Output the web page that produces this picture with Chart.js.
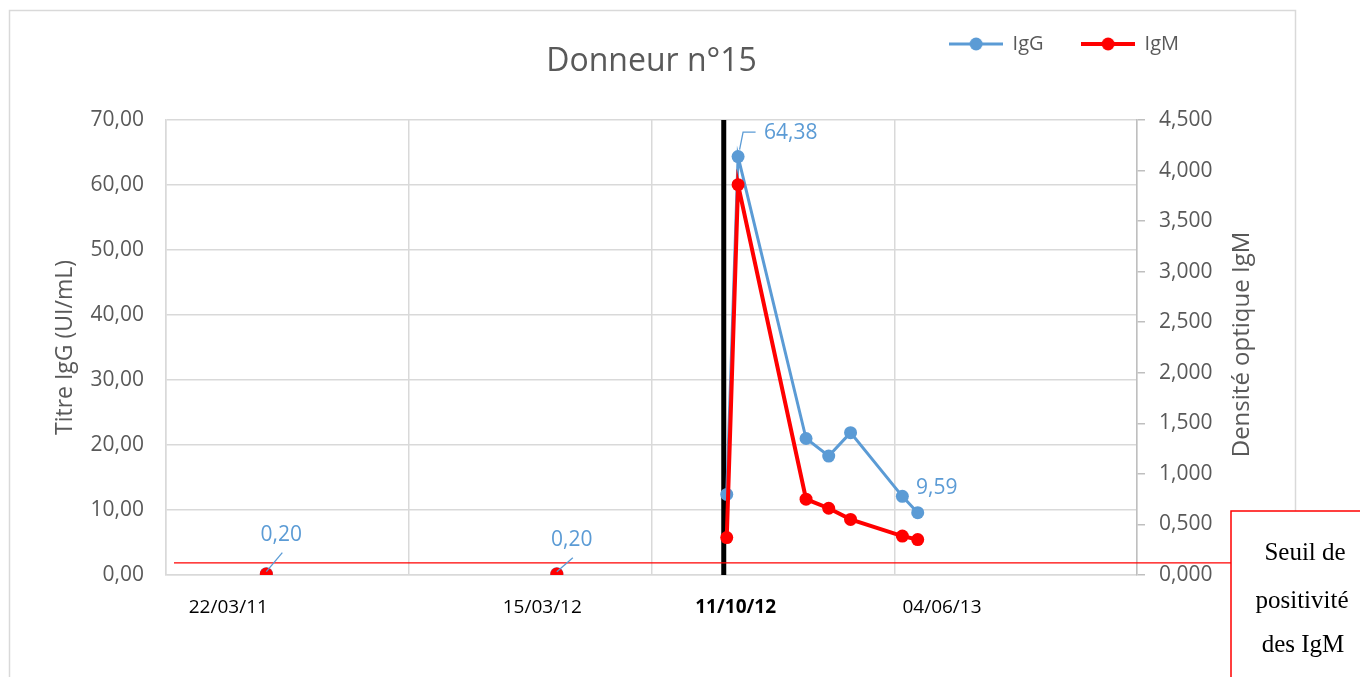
<!DOCTYPE html>
<html lang="fr">
<head>
<meta charset="utf-8">
<title>Donneur n°15</title>
<script src="https://cdn.jsdelivr.net/npm/chart.js@4.4.1/dist/chart.umd.min.js"></script>
<style>
  html, body { margin: 0; padding: 0; background: #fff; }
  #cadre { position: relative; width: 1360px; height: 677px; }
</style>
</head>
<body>
<div id="cadre"><canvas id="grafica"></canvas></div>
<script>
// Prélèvements du donneur (jj/mm/aa)
const datesPrelevement = ["22/03/11", "15/03/12", "11/10/12", "25/10/12", "17/01/13", "14/02/13", "13/03/13", "16/05/13", "04/06/13"];
const titreIgG = [0.20, 0.20, 12.40, 64.38, 21.00, 18.30, 21.90, 12.10, 9.59];
const doIgM = [0.010, 0.010, 0.370, 3.860, 0.750, 0.660, 0.550, 0.385, 0.350];
const pointsEtiquetes = [0, 1, 3, 8]; // index des titres IgG affichés
const seuilIgM = 0.12;
const dateSeroconversion = "11/10/12"; // le suivi n'est relié qu'à partir de cette date

// Axe des dates (numéros de série Excel)
const xMin = 40500;
const xMax = 41700;
const xPas = 300;
const xTickTexte = ["22/03/11", "15/03/12", "11/10/12", "04/06/13"];
const xTickPos = [40577, 40965, 41204, 41459];

// Axes des ordonnées
const yMax = 70, yPas = 10;
const y1Max = 4.5, y1Pas = 0.5;

const police = "'Open Sans', 'DejaVu Sans', sans-serif";
const gris = "#595959";
const bleu = "#5B9BD5";
const rouge = "#FF0000";

function serieExcel(txt) {
  const [j, m, a] = txt.split("/").map(Number);
  return Date.UTC(2000 + a, m - 1, j) / 86400000 + 25569;
}

const fr = (v, d) => v.toFixed(d).replace(".", ",");
const debutSuivi = serieExcel(dateSeroconversion);

// pas de trait entre les prélèvements isolés d'avant la séroconversion
const segmentSuivi = {
  borderColor: c => (c.p0.parsed.x < debutSuivi ? "rgba(0,0,0,0)" : undefined)
};

// Symbole de légende : trait + rond
function symboleLegende(couleur, epaisseur) {
  const c = document.createElement("canvas");
  c.width = 54; c.height = 14;
  const g = c.getContext("2d");
  g.strokeStyle = couleur; g.lineWidth = epaisseur;
  g.beginPath(); g.moveTo(0, 7); g.lineTo(54, 7); g.stroke();
  g.fillStyle = couleur;
  g.beginPath(); g.arc(27, 7, 6.5, 0, Math.PI * 2); g.fill();
  return c;
}
const symboles = [symboleLegende(bleu, 3), symboleLegende(rouge, 4)];

// Cadre gris + fond blanc
const pluginCadre = {
  id: "cadre",
  beforeDraw(chart) {
    const { ctx } = chart;
    ctx.save();
    ctx.fillStyle = "#fff";
    ctx.fillRect(0, 0, chart.width, chart.height);
    ctx.strokeStyle = "#d9d9d9";
    ctx.lineWidth = 1.5;
    ctx.strokeRect(9.5, 10.5, 1286, 720);
    ctx.restore();
  }
};

// Trait noir de la séroconversion + ligne du seuil IgM
const pluginReperes = {
  id: "reperes",
  beforeDatasetsDraw(chart) {
    const { ctx, chartArea, scales } = chart;
    const x = scales.x.getPixelForValue(debutSuivi) - 3;
    ctx.save();
    ctx.strokeStyle = "#000";
    ctx.lineWidth = 5;
    ctx.beginPath();
    ctx.moveTo(x, chartArea.top);
    ctx.lineTo(x, chartArea.bottom);
    ctx.stroke();

    const y = scales.y1.getPixelForValue(seuilIgM);
    ctx.strokeStyle = rouge;
    ctx.lineWidth = 1.2;
    ctx.beginPath();
    ctx.moveTo(chartArea.left + 8, y);
    ctx.lineTo(1231, y);
    ctx.stroke();
    ctx.restore();
  }
};

// Valeurs IgG écrites à côté de certains points
const placementEtiquettes = {
  0: { tx: 15, ty: -39, align: "center", trait: [[0, -2], [16, -21]] },
  1: { tx: 15, ty: -34, align: "center", trait: [[0, -2], [16, -16]] },
  3: { tx: 26, ty: -24, align: "left", trait: [[1.5, -7], [5, -24.5], [17.5, -24.5]] },
  8: { tx: 19, ty: -25, align: "center", trait: null }
};

const pluginEtiquettes = {
  id: "etiquettes",
  afterDatasetsDraw(chart) {
    const { ctx } = chart;
    const meta = chart.getDatasetMeta(0);
    ctx.save();
    ctx.fillStyle = bleu;
    ctx.strokeStyle = bleu;
    ctx.lineWidth = 1.3;
    ctx.font = "21px " + police;
    ctx.textBaseline = "middle";
    pointsEtiquetes.forEach(i => {
      const pt = meta.data[i];
      const p = placementEtiquettes[i];
      if (p.trait) {
        ctx.beginPath();
        p.trait.forEach(([dx, dy], k) => {
          if (k === 0) ctx.moveTo(pt.x + dx, pt.y + dy);
          else ctx.lineTo(pt.x + dx, pt.y + dy);
        });
        ctx.stroke();
      }
      ctx.textAlign = p.align;
      ctx.fillText(fr(titreIgG[i], 2), pt.x + p.tx, pt.y + p.ty);
    });
    ctx.restore();
  },
  afterDraw(chart) {
    const { ctx, chartArea } = chart;
    ctx.save();
    // titre de l'axe de droite, lu de bas en haut
    ctx.translate(1242.5, (chartArea.top + chartArea.bottom) / 2 - 3);
    ctx.rotate(-Math.PI / 2);
    ctx.fillStyle = gris;
    ctx.font = "24px " + police;
    ctx.textAlign = "center";
    ctx.textBaseline = "middle";
    ctx.fillText("Densité optique IgM", 0, 0);
    ctx.restore();

    // encadré du seuil de positivité
    ctx.save();
    ctx.fillStyle = "#fff";
    ctx.fillRect(1231, 511, 140, 200);
    ctx.strokeStyle = rouge;
    ctx.lineWidth = 1.5;
    ctx.strokeRect(1231, 511, 140, 200);
    ctx.fillStyle = "#000";
    ctx.font = "25px 'Liberation Serif', 'Times New Roman', serif";
    ctx.textAlign = "center";
    ctx.textBaseline = "middle";
    ctx.fillText("Seuil de", 1305, 553);
    ctx.fillText("positivité", 1302, 601);
    ctx.fillText("des IgM", 1303, 645);
    ctx.restore();
  }
};

const ctx = document.getElementById("grafica").getContext("2d");

new Chart(ctx, {
  type: "line",
  data: {
    datasets: [
      {
        label: "IgG",
        data: datesPrelevement.map((d, i) => ({ x: serieExcel(d), y: titreIgG[i] })),
        yAxisID: "y",
        borderColor: bleu,
        backgroundColor: bleu,
        borderWidth: 3,
        pointRadius: 6.5,
        pointHoverRadius: 6.5,
        pointBorderWidth: 0,
        tension: 0,
        segment: segmentSuivi,
        order: 1
      },
      {
        label: "IgM",
        data: datesPrelevement.map((d, i) => ({ x: serieExcel(d), y: doIgM[i] })),
        yAxisID: "y1",
        borderColor: rouge,
        backgroundColor: rouge,
        borderWidth: 4,
        pointRadius: 6.5,
        pointHoverRadius: 6.5,
        pointBorderWidth: 0,
        tension: 0,
        segment: segmentSuivi,
        order: 0
      }
    ]
  },
  options: {
    responsive: true,
    maintainAspectRatio: false,
    animation: false,
    layout: { padding: { left: 48, right: 143, top: -4, bottom: 0 } },
    plugins: {
      tooltip: { enabled: false },
      legend: {
        display: true,
        position: "top",
        align: "end",
        weight: 3000,
        labels: {
          usePointStyle: true,
          pointStyleWidth: 53,
          padding: 38,
          color: gris,
          font: { family: police, size: 20 },
          sort: (a, b) => a.datasetIndex - b.datasetIndex,
          generateLabels: chart =>
            Chart.defaults.plugins.legend.labels.generateLabels(chart)
              .map(item => ({ ...item, pointStyle: symboles[item.datasetIndex] }))
        }
      },
      title: {
        display: true,
        fullSize: false,
        text: "Donneur n°15",
        color: gris,
        font: { family: police, size: 32, weight: "normal" },
        padding: { top: -21, bottom: 38.6 }
      }
    },
    scales: {
      x: {
        type: "linear",
        position: "bottom",
        weight: 0,
        min: xMin,
        max: xMax,
        ticks: { display: false, stepSize: xPas },
        grid: { color: "#d9d9d9", lineWidth: 1.5, drawTicks: false },
        border: { color: "#d9d9d9", width: 1.5 },
        afterFit: s => { s.height = 0; }
      },
      xl: {
        type: "linear",
        position: "bottom",
        weight: 1,
        min: xMin,
        max: xMax,
        afterBuildTicks: s => { s.ticks = xTickPos.map(v => ({ value: v })); },
        grid: { display: false, drawTicks: false },
        border: { display: false },
        ticks: {
          color: "#000",
          padding: 21,
          maxRotation: 0,
          autoSkip: false,
          font: c => ({
            family: police,
            size: 19,
            weight: xTickTexte[c.index] === dateSeroconversion ? "bold" : "normal"
          }),
          callback: (v, i) => xTickTexte[i]
        },
        afterFit: s => { s.height = 102; }
      },
      y: {
        position: "left",
        min: 0,
        max: yMax,
        ticks: { stepSize: yPas, color: gris, padding: 22, font: { family: police, size: 21 }, callback: v => fr(v, 2) },
        grid: { color: "#d9d9d9", lineWidth: 1.5, drawTicks: false },
        border: { color: "#d9d9d9", width: 1.5 },
        title: { display: true, text: "Titre IgG (UI/mL)", color: gris, font: { family: police, size: 23 } },
        afterFit: s => { s.width = 118; }
      },
      y1: {
        position: "right",
        min: 0,
        max: y1Max,
        ticks: { stepSize: y1Pas, color: gris, padding: 14, font: { family: police, size: 21 }, callback: v => fr(v, 3) },
        grid: { drawOnChartArea: false, color: "#bfbfbf", lineWidth: 1.5, tickLength: 8 },
        border: { color: "#bfbfbf", width: 1.5 },
        afterFit: s => { s.width = 80; }
      }
    }
  },
  plugins: [pluginCadre, pluginReperes, pluginEtiquettes]
});
</script>
</body>
</html>
